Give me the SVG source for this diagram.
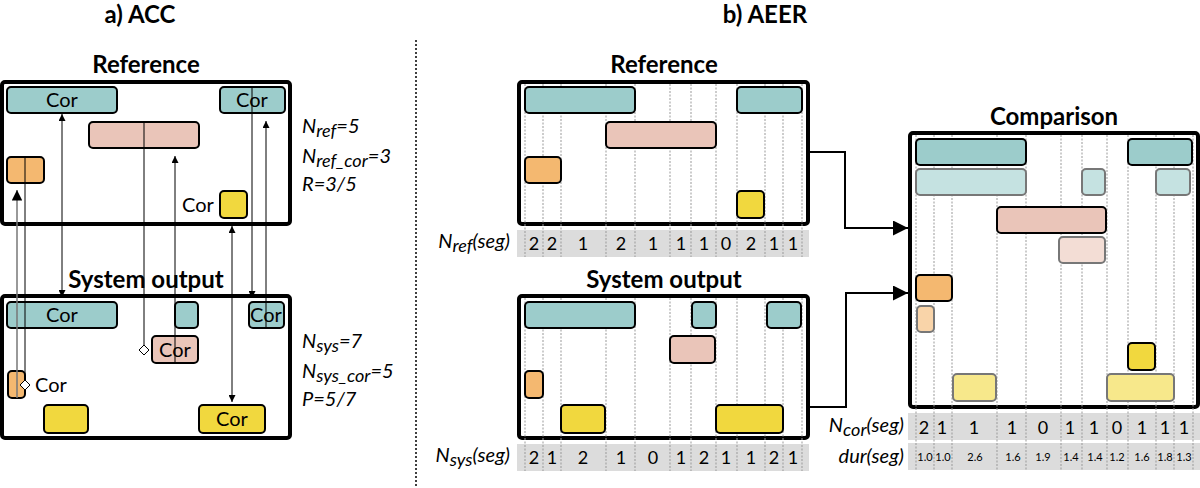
<svg xmlns="http://www.w3.org/2000/svg" width="1200" height="488" viewBox="0 0 1200 488">
<defs>
<style>
text{font-family:Lato,"Open Sans","Liberation Sans",sans-serif;fill:#000}
.title{font-size:24px;font-weight:bold;text-anchor:middle}
.cor{font-size:20px;text-anchor:middle}
.it{font-size:20px;font-style:italic}
.val{font-size:18px;text-anchor:middle}
.dur{font-size:11px;text-anchor:middle}
.frame{fill:#fff;stroke:#000;stroke-width:4}
.t{fill:#9ccccb;stroke:#000;stroke-width:2}
.s{fill:#eac5b9;stroke:#000;stroke-width:2}
.o{fill:#f4b870;stroke:#000;stroke-width:2}
.y{fill:#f1d83e;stroke:#000;stroke-width:2}
.tl{fill:#c5e2e1;stroke:#777;stroke-width:2}
.sl{fill:#f3ddd5;stroke:#777;stroke-width:2}
.ol{fill:#f9d4a9;stroke:#777;stroke-width:2}
.yl{fill:#f7e88b;stroke:#777;stroke-width:2}
.bar{fill:#dcdcdc}
.grid{stroke:#999;stroke-width:1;stroke-dasharray:2 1.5;fill:none}
.ln{stroke:#000;stroke-width:1;fill:none}
.lg{stroke:#777;stroke-width:1.5;fill:none}
.conn{stroke:#000;stroke-width:2;fill:none}
</style>
<marker id="ah" viewBox="0 0 10 10" refX="10" refY="5" markerWidth="7" markerHeight="7" orient="auto-start-reverse"><path d="M0,0L10,5L0,10z" fill="#000"/></marker>
<marker id="big" viewBox="0 0 10 10" refX="10" refY="5" markerWidth="15" markerHeight="15" orient="auto" markerUnits="userSpaceOnUse"><path d="M0,0L10,5L0,10z" fill="#000"/></marker>
<marker id="dia" viewBox="0 0 10 10" refX="5" refY="5" markerWidth="10" markerHeight="10" markerUnits="userSpaceOnUse" orient="0"><path d="M5,0L10,5L5,10L0,5z" fill="#fff" stroke="#000" stroke-width="1"/></marker>
</defs>
<rect width="1200" height="488" fill="#fff"/>
<text class="title" x="140" y="23">a) ACC</text>
<text class="title" x="765" y="23">b) AEER</text>
<line x1="416" y1="40" x2="416" y2="488" stroke="#000" stroke-width="1.5" stroke-dasharray="2 2"/>

<!-- Panel a -->
<g id="a-ref">
<text class="title" x="146" y="73">Reference</text>
<rect class="frame" x="2" y="82" width="288" height="142" rx="3"/>
<rect class="t" x="7" y="87" width="110" height="26" rx="4"/><text class="cor" x="62" y="107">Cor</text>
<rect class="t" x="220" y="87" width="65" height="26" rx="4"/><text class="cor" x="252" y="107">Cor</text>
<rect class="s" x="89" y="122" width="110" height="26" rx="4"/>
<rect class="o" x="7" y="157" width="37" height="26" rx="4"/>
<rect class="y" x="220" y="191" width="27" height="27" rx="4"/><text class="cor" x="198" y="212">Cor</text>
</g>
<g id="a-sys">
<text class="title" x="146" y="288">System output</text>
<rect class="frame" x="2" y="296" width="288" height="142" rx="3"/>
<rect class="t" x="7" y="302" width="110" height="26" rx="4"/><text class="cor" x="62" y="322">Cor</text>
<rect class="t" x="175" y="302" width="23" height="26" rx="4"/>
<rect class="t" x="249" y="302" width="35" height="26" rx="4"/><text class="cor" x="266" y="322">Cor</text>
<rect class="s" x="152" y="336" width="46" height="27" rx="4"/><text class="cor" x="175" y="357">Cor</text>
<rect class="o" x="8" y="371" width="17" height="27" rx="4"/><text class="cor" x="51" y="392">Cor</text>
<rect class="y" x="44" y="405" width="44" height="28" rx="4"/>
<rect class="y" x="199" y="405" width="66" height="28" rx="4"/><text class="cor" x="232" y="426">Cor</text>
</g>
<g id="a-links">
<line class="ln" x1="62" y1="114" x2="62" y2="297" marker-start="url(#ah)" marker-end="url(#ah)"/>
<line class="lg" x1="17" y1="398" x2="17" y2="190" marker-end="url(#ah)"/>
<line class="ln" x1="25" y1="157" x2="25" y2="385" marker-end="url(#dia)"/>
<line class="ln" x1="144" y1="122" x2="144" y2="350" marker-end="url(#dia)"/>
<line class="ln" x1="175" y1="363" x2="175" y2="156" marker-end="url(#ah)"/>
<line class="ln" x1="232" y1="226" x2="232" y2="402" marker-start="url(#ah)" marker-end="url(#ah)"/>
<line class="ln" x1="252" y1="87" x2="252" y2="298" marker-end="url(#ah)"/>
<line class="ln" x1="266" y1="328" x2="266" y2="121" marker-end="url(#ah)"/>
</g>
<g id="a-stats">
<text class="it" x="302" y="133">N<tspan font-size="18" dy="4">ref</tspan><tspan dy="-4">=5</tspan></text>
<text class="it" x="302" y="163">N<tspan font-size="18" dy="4">ref_cor</tspan><tspan dy="-4">=3</tspan></text>
<text class="it" x="302" y="191">R=3/5</text>
<text class="it" x="302" y="348">N<tspan font-size="18" dy="4">sys</tspan><tspan dy="-4">=7</tspan></text>
<text class="it" x="302" y="378">N<tspan font-size="18" dy="4">sys_cor</tspan><tspan dy="-4">=5</tspan></text>
<text class="it" x="302" y="406">P=5/7</text>
</g>

<!-- Panel b -->
<g id="b-ref">
<text class="title" x="664" y="73">Reference</text>
<rect class="frame" x="519" y="82" width="289" height="142" rx="3"/>
<rect class="bar" x="517" y="230" width="292" height="27"/>
<path class="grid" d="M525,84V257M543,84V257M561,84V257M606,84V257M635,84V257M670,84V257M691,84V257M716,84V257M737,84V257M765,84V257M783,84V257M802,84V257"/>
<rect class="t" x="525" y="87" width="110" height="26" rx="4"/>
<rect class="t" x="737" y="87" width="65" height="26" rx="4"/>
<rect class="s" x="606" y="122" width="110" height="26" rx="4"/>
<rect class="o" x="525" y="157" width="36" height="26" rx="4"/>
<rect class="y" x="737" y="191" width="27" height="27" rx="4"/>
<text class="it" x="510" y="248" text-anchor="end">N<tspan font-size="18" dy="4">ref</tspan><tspan dy="-4">(seg)</tspan></text>
<g class="val"><text x="534" y="250">2</text><text x="552" y="250">2</text><text x="583" y="250">1</text><text x="621" y="250">2</text><text x="653" y="250">1</text><text x="681" y="250">1</text><text x="704" y="250">1</text><text x="726" y="250">0</text><text x="751" y="250">2</text><text x="774" y="250">1</text><text x="793" y="250">1</text></g>
</g>
<g id="b-sys">
<text class="title" x="664" y="288">System output</text>
<rect class="frame" x="519" y="296" width="289" height="142" rx="3"/>
<rect class="bar" x="517" y="444" width="292" height="27"/>
<path class="grid" d="M525,298V471M543,298V471M561,298V471M606,298V471M635,298V471M670,298V471M691,298V471M716,298V471M737,298V471M765,298V471M783,298V471M802,298V471"/>
<rect class="t" x="525" y="302" width="110" height="26" rx="4"/>
<rect class="t" x="692" y="302" width="24" height="26" rx="4"/>
<rect class="t" x="767" y="302" width="34" height="26" rx="4"/>
<rect class="s" x="670" y="336" width="45" height="27" rx="4"/>
<rect class="o" x="525" y="371" width="18" height="27" rx="4"/>
<rect class="y" x="561" y="405" width="44" height="28" rx="4"/>
<rect class="y" x="716" y="405" width="67" height="28" rx="4"/>
<text class="it" x="510" y="462" text-anchor="end">N<tspan font-size="18" dy="4">sys</tspan><tspan dy="-4">(seg)</tspan></text>
<g class="val"><text x="534" y="464">2</text><text x="552" y="464">1</text><text x="583" y="464">2</text><text x="621" y="464">1</text><text x="653" y="464">0</text><text x="681" y="464">1</text><text x="704" y="464">2</text><text x="726" y="464">1</text><text x="751" y="464">1</text><text x="774" y="464">2</text><text x="793" y="464">1</text></g>
</g>
<g id="b-comp">
<text class="title" x="1054" y="125">Comparison</text>
<rect class="frame" x="910" y="133" width="288" height="274" rx="3"/>
<rect class="bar" x="908" y="413" width="292" height="27"/>
<rect class="bar" x="908" y="443" width="292" height="27"/>
<path class="grid" d="M916,135V470M934,135V470M952,135V470M997,135V470M1026,135V470M1061,135V470M1082,135V470M1107,135V470M1128,135V470M1156,135V470M1174,135V470M1193,135V470"/>
<rect class="t" x="916" y="139" width="110" height="26" rx="4"/>
<rect class="t" x="1128" y="139" width="64" height="26" rx="4"/>
<rect class="tl" x="916" y="169" width="110" height="26" rx="4"/>
<rect class="tl" x="1082" y="169" width="23" height="26" rx="4"/>
<rect class="tl" x="1156" y="169" width="34" height="26" rx="4"/>
<rect class="s" x="997" y="207" width="109" height="26" rx="4"/>
<rect class="sl" x="1059" y="237" width="46" height="26" rx="4"/>
<rect class="o" x="916" y="275" width="36" height="26" rx="4"/>
<rect class="ol" x="917" y="306" width="17" height="26" rx="4"/>
<rect class="y" x="1128" y="343" width="27" height="27" rx="4"/>
<rect class="yl" x="953" y="374" width="43" height="27" rx="4"/>
<rect class="yl" x="1107" y="374" width="67" height="27" rx="4"/>
<text class="it" x="904" y="432" text-anchor="end">N<tspan font-size="18" dy="4">cor</tspan><tspan dy="-4">(seg)</tspan></text>
<text class="it" x="904" y="463" text-anchor="end">dur(seg)</text>
<g class="val"><text x="924" y="434">2</text><text x="942" y="434">1</text><text x="974" y="434">1</text><text x="1012" y="434">1</text><text x="1043" y="434">0</text><text x="1070" y="434">1</text><text x="1094" y="434">1</text><text x="1117" y="434">0</text><text x="1142" y="434">1</text><text x="1165" y="434">1</text><text x="1184" y="434">1</text></g>
<g class="dur"><text x="925" y="461">1.0</text><text x="943" y="461">1.0</text><text x="975" y="461">2.6</text><text x="1013" y="461">1.6</text><text x="1043" y="461">1.9</text><text x="1071" y="461">1.4</text><text x="1095" y="461">1.4</text><text x="1117" y="461">1.2</text><text x="1142" y="461">1.6</text><text x="1165" y="461">1.8</text><text x="1184" y="461">1.3</text></g>
</g>
<g id="b-connectors">
<path class="conn" d="M808,152H845V228H908" marker-end="url(#big)"/>
<path class="conn" d="M808,407H846V293H908" marker-end="url(#big)"/>
</g>
</svg>
